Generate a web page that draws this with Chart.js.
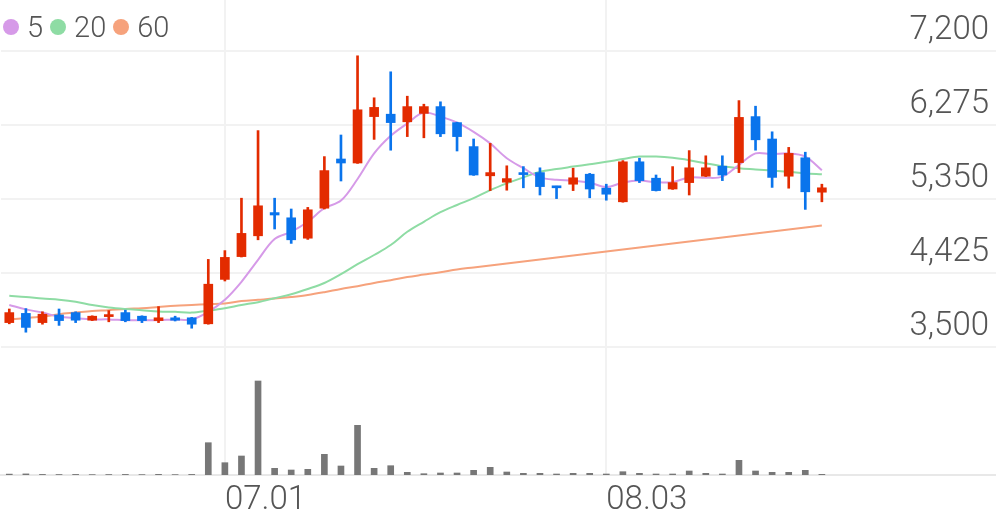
<!DOCTYPE html>
<html>
<head>
<meta charset="utf-8">
<script src="https://cdn.jsdelivr.net/npm/chart.js@4.4.0/dist/chart.umd.min.js"></script>
<style>
  html, body { margin: 0; padding: 0; background: #fff; }
  #wrap { position: relative; width: 996px; height: 519px; }
  #legend { position: absolute; left: 3px; top: 8px; font-family: Roboto, sans-serif; font-weight: 300; font-size: 29px; color: #555; display: flex; align-items: center; line-height: 38px; }
  #legend .item { display: flex; align-items: center; margin-right: 7px; }
  #legend .dot { display: inline-block; width: 16px; height: 16px; border-radius: 50%; margin-right: 8px; }
</style>
</head>
<body>
<div id="wrap">
  <canvas id="stockChart" width="996" height="519"></canvas>
  <div id="legend"></div>
</div>
<script>
// trading days shown (10 empty slots follow on the right)
const dates = ['06.12','06.15','06.16','06.17','06.18','06.19','06.22','06.23','06.24','06.25','06.26','06.29','06.30',
  '07.01','07.02','07.03','07.06','07.07','07.08','07.09','07.10','07.13','07.14','07.15','07.16','07.17','07.20',
  '07.21','07.22','07.23','07.24','07.27','07.28','07.29','07.30','07.31',
  '08.03','08.04','08.05','08.06','08.07','08.10','08.11','08.12','08.13','08.14','08.18','08.19','08.20','08.21'];
const emptySlots = 10;

const opens  = [3805,3920,3805,3900,3930,3835,3880,3930,3885,3830,3865,3865,3790,4345,4630,4890,5180,5115,4860,5235,
  5850,5800,6380,6410,6315,6420,6505,6305,6005,5640,5560,5680,5680,5510,5535,5660,5485,5315,5815,5610,
  5475,5555,5635,5760,5805,6380,6100,5635,5865,5435];
const highs  = [3975,3980,3940,3975,3940,3890,3955,3960,3890,4005,3885,3870,4595,4705,5360,6205,5360,5225,5245,5880,
  6150,7140,6615,6940,6635,6535,6565,6310,6100,6045,5765,5755,5740,5510,5735,5670,5535,5830,5860,5650,
  5755,5955,5890,5890,6580,6510,6190,5995,5935,5535];
const lows   = [3790,3685,3785,3770,3805,3830,3815,3815,3805,3805,3825,3735,3785,4325,4625,4840,4975,4795,4845,5225,
  5575,5795,6095,5960,6130,6115,6130,5950,5645,5455,5460,5490,5400,5355,5455,5365,5335,5310,5555,5450,
  5470,5400,5630,5580,5680,5960,5495,5485,5220,5315];
const closes = [3930,3745,3910,3830,3835,3885,3905,3830,3830,3865,3835,3785,4285,4620,4920,5265,5150,4840,5215,5705,
  5800,6465,6495,6305,6505,6505,6165,6130,5650,5680,5605,5655,5505,5490,5615,5475,5410,5815,5580,5455,
  5555,5740,5740,5650,6370,6090,5620,5920,5440,5490];
const volumes = [9000,11000,6000,5000,6000,4000,5000,6000,4000,7000,4000,6000,323000,123000,190000,940000,67000,50000,57000,207000,
  90000,497000,67000,93000,27000,13000,20000,20000,47000,77000,30000,17000,17000,10000,17000,17000,10000,33000,17000,10000,
  10000,40000,17000,10000,147000,40000,27000,27000,47000,7000];

// moving averages
const ma5  = [4025,3970,3930,3880,3860,3845,3845,3835,3835,3835,3845,3845,3940,4090,4315,4590,4850,4940,5065,5235,
  5330,5600,5920,6140,6295,6430,6380,6305,6190,6045,5860,5735,5620,5590,5580,5555,5500,5555,5580,5560,
  5560,5620,5615,5630,5775,5920,5910,5920,5880,5710];
const ma20 = [4140,4125,4105,4090,4065,4025,3995,3975,3960,3945,3940,3930,3955,3985,4025,4060,4110,4160,4225,4300,
  4410,4535,4650,4775,4940,5065,5185,5275,5360,5460,5545,5620,5690,5725,5755,5785,5815,5850,5880,5880,
  5865,5835,5795,5760,5735,5720,5705,5690,5670,5660];
const ma60 = [3845,3860,3880,3910,3930,3950,3960,3975,3985,4000,4015,4025,4035,4045,4075,4090,4105,4125,4150,4185,
  4225,4260,4300,4335,4375,4405,4435,4470,4495,4520,4545,4570,4595,4620,4645,4670,4695,4720,4745,4770,
  4795,4820,4845,4870,4895,4920,4945,4970,4995,5020];

const priceTicks = [3500, 4425, 5350, 6275, 7200];
const maNames = ['5', '20', '60'];
const maColors = ['#d69ae8', '#8edca4', '#f6a27c'];
const upColor = '#e32b00';
const downColor = '#0a74ec';

document.addEventListener('DOMContentLoaded', function() {
  const labels = dates.concat(new Array(emptySlots).fill(''));
  const candleColors = opens.map((o, i) => closes[i] >= o ? upColor : downColor);

  // legend
  const legend = document.getElementById('legend');
  maNames.forEach((name, i) => {
    const item = document.createElement('span');
    item.className = 'item';
    item.innerHTML = '<span class="dot" style="background:' + maColors[i] + '"></span>' + name;
    legend.appendChild(item);
  });

  const maLine = (name, data, color) => ({
    type: 'line', label: name, data: data, borderColor: color, borderWidth: 2,
    pointRadius: 0, tension: 0.35, yAxisID: 'y', order: 3
  });

  const ctx = document.getElementById('stockChart').getContext('2d');
  new Chart(ctx, {
    type: 'bar',
    data: {
      labels: labels,
      datasets: [
        maLine(maNames[0], ma5, maColors[0]),
        maLine(maNames[1], ma20, maColors[1]),
        maLine(maNames[2], ma60, maColors[2]),
        {
          label: 'wick', data: lows.map((l, i) => [l, highs[i]]),
          backgroundColor: candleColors, barThickness: 2, grouped: false, yAxisID: 'y', order: 1
        },
        {
          label: 'body', data: opens.map((o, i) => [o, closes[i]]),
          backgroundColor: candleColors, barThickness: 9, minBarLength: 2, grouped: false, yAxisID: 'y', order: 0
        },
        {
          label: 'volume', data: volumes,
          backgroundColor: '#777777', barThickness: 6, grouped: false, yAxisID: 'vol', order: 2
        }
      ]
    },
    options: {
      responsive: false,
      animation: false,
      layout: { padding: { left: 1, right: 0, top: 0, bottom: 0 } },
      plugins: { legend: { display: false }, tooltip: { enabled: false } },
      scales: {
        x: {
          offset: true,
          grid: {
            offset: false, lineWidth: 2, drawTicks: false,
            color: c => (c.tick && c.tick.label) ? '#f2f2f2' : 'rgba(0,0,0,0)'
          },
          border: { color: '#e8e8e8', width: 2 },
          ticks: {
            autoSkip: false, maxRotation: 0, align: 'start', padding: 6, color: '#555',
            font: { family: 'Roboto', size: 33, weight: '300' },
            callback: function(value, index) {
              const d = labels[index];
              if (!d || index === 0) return '';
              return d.slice(0, 2) !== labels[index - 1].slice(0, 2) ? d : '';
            }
          },
          afterFit: scale => {
            scale.height = 44;
            scale.paddingLeft = 0;
            scale.paddingRight = 0;
          }
        },
        y: {
          position: 'right',
          min: 1900,
          max: 7837.5,
          afterBuildTicks: scale => { scale.ticks = priceTicks.map(v => ({ value: v })); },
          grid: { color: '#f2f2f2', lineWidth: 2, drawTicks: false },
          border: { display: false },
          ticks: {
            mirror: true, labelOffset: -20, padding: -7, color: '#555',
            font: { family: 'Roboto', size: 33, weight: '300' },
            callback: v => v.toLocaleString('en-US')
          },
          afterFit: scale => {
            scale.width = 0;
            scale.paddingTop = 0;
            scale.paddingBottom = 0;
          }
        },
        vol: { display: false, min: 0, max: 4750000 }
      }
    }
  });
});
</script>
</body>
</html>
